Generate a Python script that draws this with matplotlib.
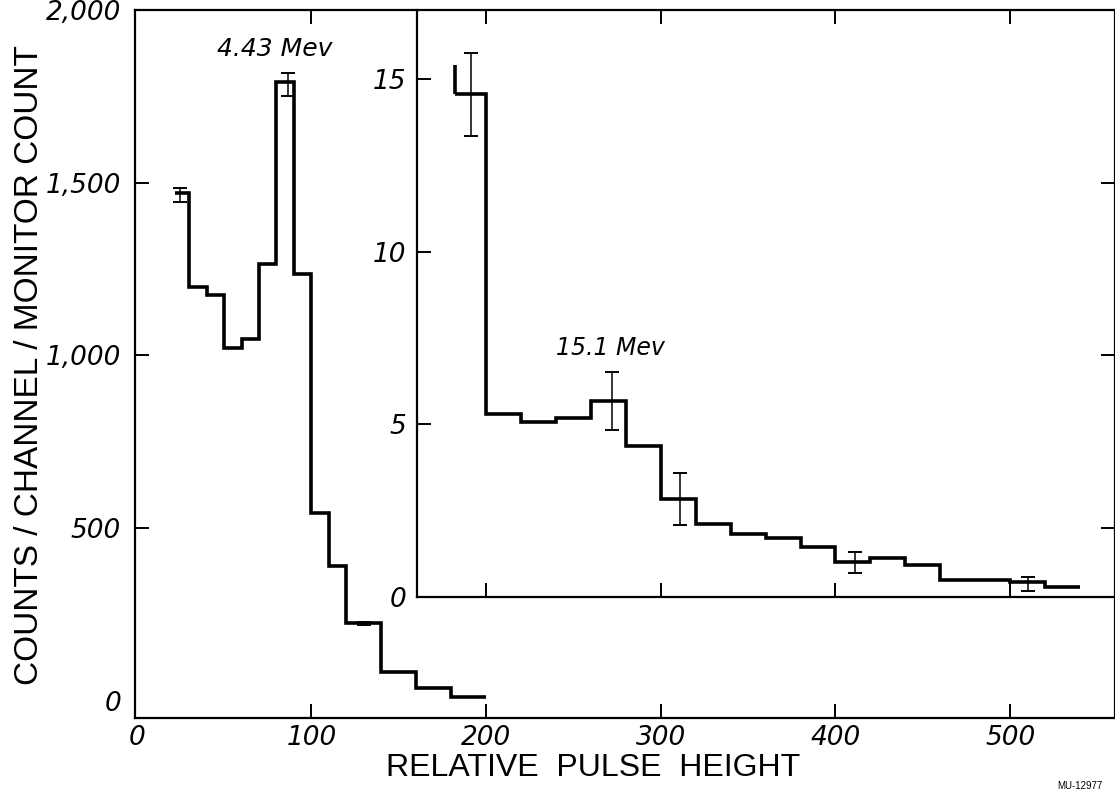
import numpy as np
import matplotlib
matplotlib.use("Agg")
import matplotlib.pyplot as plt

# main spectrum (low pulse heights)
main_edges = [22, 30, 40, 50, 60, 70, 80, 90, 100, 110, 120, 140, 160, 180, 200]
main_counts = [1470, 1198, 1175, 1021, 1047, 1265, 1792, 1236, 543, 390, 224, 84, 36, 12]
main_err_x = [24.5, 86.5, 130]
main_err_y = [1465, 1785, 224]
main_err = [20, 34, 5]

# inset spectrum (high pulse heights, expanded scale)
inset_edges = [182, 200, 220, 240, 260, 280, 300, 320, 340, 360, 380,
               400, 420, 440, 460, 480, 500, 520, 540]
inset_counts = [14.58, 5.29, 5.08, 5.19, 5.69, 4.39, 2.85, 2.13, 1.83, 1.70,
                1.44, 1.02, 1.13, 0.92, 0.51, 0.51, 0.43, 0.29]
inset_lead = 15.4
inset_err_x = [191.5, 272, 311, 411, 510]
inset_err_y = [14.55, 5.69, 2.85, 1.0, 0.39]
inset_err = [1.2, 0.84, 0.75, 0.3, 0.2]

x_ticks = [0, 100, 200, 300, 400, 500]
y_ticks = [0, 500, 1000, 1500, 2000]
y_labels = ["0", "500", "1,000", "1,500", "2,000"]
inset_y_ticks = [0, 5, 10, 15]

narrow = ["Liberation Sans", "DejaVu Sans"]
tickfont = dict(family="DejaVu Sans", style="italic", size=19)

fig = plt.figure(figsize=(11.15, 8.0), dpi=100)
ax = fig.add_axes([135 / 1115, 82 / 800, 980 / 1115, 708 / 800])

ax.stairs(main_counts, main_edges, baseline=None, color="black", lw=2.6)
ax.errorbar(main_err_x, main_err_y, yerr=main_err, fmt="none", ecolor="black",
            elinewidth=1.1, capsize=5, capthick=1.4)

ax.set_xlim(-1, 560)
ax.set_ylim(-50, 2000)
ax.set_xticks(x_ticks)
ax.set_xticklabels([str(t) for t in x_ticks], fontdict=tickfont)
ax.set_yticks(y_ticks)
ax.set_yticklabels(y_labels, fontdict=tickfont)
ax.tick_params(direction="in", length=10, width=1.4, top=True, right=True)
ax.tick_params(axis="x", pad=5)
ax.tick_params(axis="y", pad=10)
for t in (ax.yaxis.get_major_ticks()[0], ax.xaxis.get_major_ticks()[0]):
    t.tick1line.set_visible(False)
    t.tick2line.set_visible(False)
for s in ax.spines.values():
    s.set_linewidth(1.6)

ax.text(79, 1887, "4.43 Mev", style="italic", fontsize=18, ha="center", va="center",
        family="DejaVu Sans")

# inset on the same x scale
ins = ax.inset_axes([160.6, 300, 560 - 160.6, 1700], transform=ax.transData)
ins.set_facecolor("none")
ins.stairs(inset_counts, inset_edges, baseline=None, color="black", lw=2.6)
ins.vlines(inset_edges[0], inset_counts[0], inset_lead, color="black", lw=2.6)
ins.errorbar(inset_err_x, inset_err_y, yerr=inset_err, fmt="none", ecolor="black",
             elinewidth=1.1, capsize=5, capthick=1.4)
ins.set_xlim(160.6, 560)
ins.set_ylim(0, 17)
ins.set_xticks(x_ticks[2:])
ins.set_xticklabels([])
ins.set_yticks(inset_y_ticks)
ins.set_yticklabels([str(t) for t in inset_y_ticks], fontdict=tickfont)
ins.tick_params(direction="in", length=10, width=1.4, pad=8)
ins.yaxis.get_major_ticks()[0].tick1line.set_visible(False)
ins.spines["top"].set_visible(False)
ins.spines["right"].set_visible(False)
for s in ins.spines.values():
    s.set_linewidth(1.6)

ins.text(271, 7.2, "15.1 Mev", style="italic", fontsize=17, ha="center", va="center",
         family="DejaVu Sans")

fig.text(593 / 1115, 1 - 768 / 800, "RELATIVE  PULSE  HEIGHT", ha="center", va="center",
         fontsize=23, family=narrow)
fig.text(30 / 1115, 1 - 365 / 800, "COUNTS / CHANNEL / MONITOR COUNT", rotation=90,
         ha="center", va="center", fontsize=24, family=narrow)
fig.text(1080 / 1115, 1 - 786 / 800, "MU-12977", ha="center", va="center",
         fontsize=7, family=narrow)

fig.savefig("out.png", dpi=100)
